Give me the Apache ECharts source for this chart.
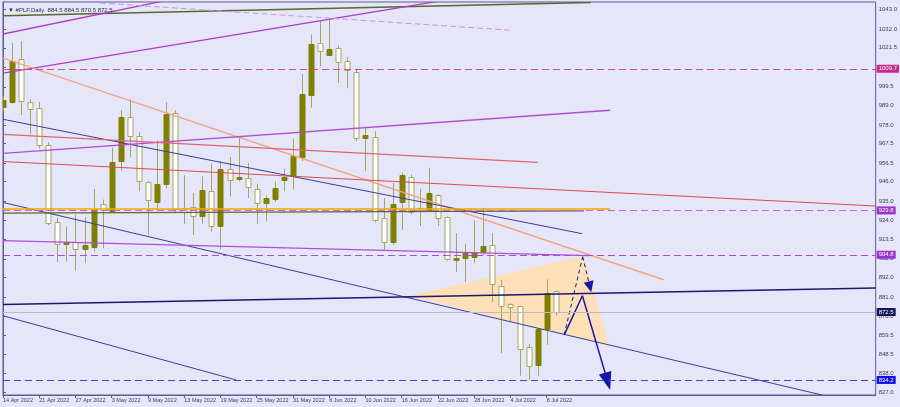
<!DOCTYPE html>
<html>
<head>
<meta charset="utf-8">
<script src="https://cdn.jsdelivr.net/npm/echarts@6/dist/echarts.min.js"></script>
<style>
html, body { margin: 0; padding: 0; background: #e6e6fa; }
#chart { width: 900px; height: 407px; }
</style>
</head>
<body>
<div id="chart"></div>
<script>
// daily candles, #PLF
const dates = [
  '14 Apr 2022', '18 Apr 2022', '19 Apr 2022', '20 Apr 2022', '21 Apr 2022', '22 Apr 2022',
  '25 Apr 2022', '26 Apr 2022', '27 Apr 2022', '28 Apr 2022', '29 Apr 2022', '2 May 2022',
  '3 May 2022', '4 May 2022', '5 May 2022', '6 May 2022', '9 May 2022', '10 May 2022',
  '11 May 2022', '12 May 2022', '13 May 2022', '16 May 2022', '17 May 2022', '18 May 2022',
  '19 May 2022', '20 May 2022', '23 May 2022', '24 May 2022', '25 May 2022', '26 May 2022',
  '27 May 2022', '30 May 2022', '31 May 2022', '1 Jun 2022', '2 Jun 2022', '3 Jun 2022',
  '6 Jun 2022', '7 Jun 2022', '8 Jun 2022', '9 Jun 2022', '10 Jun 2022', '13 Jun 2022',
  '14 Jun 2022', '15 Jun 2022', '16 Jun 2022', '17 Jun 2022', '20 Jun 2022', '21 Jun 2022',
  '22 Jun 2022', '23 Jun 2022', '24 Jun 2022', '27 Jun 2022', '28 Jun 2022', '29 Jun 2022',
  '30 Jun 2022', '1 Jul 2022', '4 Jul 2022', '5 Jul 2022', '6 Jul 2022', '7 Jul 2022',
  '8 Jul 2022', '11 Jul 2022'
];
const opens = [
  988.5, 991.0, 1015.0, 990.8, 987.4, 966.5, 923.2, 911.1, 912.2, 907.9, 909.4, 933.4,
  929.6, 957.6, 982.7, 971.7, 945.9, 934.9, 944.9, 985.0, 931.2, 931.5, 927.0, 940.6,
  921.3, 952.9, 947.6, 948.2, 942.1, 934.0, 936.3, 946.6, 949.0, 959.8, 994.8, 1024.3,
  1017.7, 1021.3, 1013.9, 1008.0, 970.3, 971.4, 925.5, 911.9, 934.0, 948.7, 931.0, 930.2,
  938.7, 926.0, 902.2, 903.4, 903.4, 906.5, 910.3, 887.1, 877.3, 875.8, 852.7, 842.3,
  862.7, 884.5
];
const closes = [
  992.2, 1014.3, 991.4, 986.9, 966.6, 922.6, 910.7, 912.2, 908.5, 910.3, 930.8, 930.2,
  957.2, 982.5, 972.1, 946.6, 935.5, 944.9, 984.4, 930.8, 929.2, 926.4, 941.5, 921.1,
  953.3, 946.6, 948.7, 943.0, 934.0, 936.8, 942.5, 948.5, 960.4, 995.4, 1023.7, 1019.9,
  1020.9, 1013.4, 1008.6, 970.8, 972.1, 924.5, 912.2, 933.4, 949.5, 929.2, 929.8, 939.7,
  926.0, 902.2, 903.2, 906.0, 906.5, 910.0, 888.2, 875.8, 875.4, 851.8, 841.9, 862.7,
  883.0, 872.5
];
const lows = [
  986.0, 990.0, 983.5, 972.7, 964.8, 921.5, 900.7, 900.9, 895.8, 900.0, 906.5, 908.5,
  929.0, 952.3, 959.8, 940.6, 916.0, 929.8, 942.1, 928.3, 922.3, 916.0, 922.3, 917.9,
  907.9, 937.7, 946.2, 936.8, 922.3, 923.6, 934.6, 940.6, 941.5, 957.6, 987.8, 1011.1,
  1017.3, 1001.6, 998.8, 968.9, 951.9, 923.0, 907.9, 910.3, 918.8, 927.5, 921.0, 928.9,
  921.1, 901.5, 895.2, 889.5, 900.0, 904.7, 878.2, 849.3, 866.9, 836.6, 834.2, 836.6,
  854.0, 870.5
];
const highs = [
  994.0, 1024.3, 1025.3, 992.5, 991.0, 968.3, 925.7, 920.7, 927.4, 926.0, 941.9, 935.9,
  965.2, 986.3, 992.5, 974.0, 946.5, 969.3, 990.7, 986.3, 949.6, 939.7, 949.0, 956.1,
  957.6, 960.0, 970.8, 956.7, 944.9, 938.1, 946.2, 953.3, 970.3, 1006.7, 1029.0, 1036.9,
  1037.9, 1022.8, 1016.2, 1009.0, 976.5, 974.4, 936.8, 945.3, 951.0, 950.0, 942.0, 953.8,
  939.0, 926.5, 917.0, 910.7, 924.1, 931.2, 917.0, 890.5, 877.5, 876.0, 854.6, 863.2,
  890.9, 884.5
];

// axis labels
const xTickIdx = [0, 4, 8, 12, 16, 20, 24, 28, 32, 36, 40, 44, 48, 52, 56, 60];
const yTicks = [1043.0, 1032.0, 1021.5, 1010.5, 999.5, 989.0, 978.0, 967.5, 956.5, 946.0,
  935.0, 924.0, 913.5, 902.5, 892.0, 881.0, 870.0, 859.5, 848.5, 838.0, 827.0];

// drawn objects, [bar index, price]
const greenTop = [[0, 1039.6], [64.9, 1047.1]];
const violetSteep = [[0, 1029.3], [19.5, 1049.8]];
const violetUpper = [[0, 1007.2], [48.2, 1047.9]];
const lilacDashed = [[10.7, 1046.8], [55.9, 1031.5]];
const salmonTrend = [[0, 1015.7], [72.9, 890.7]];
const navyUpper = [[0, 981.2], [63.9, 916.7]];
const navyMiddle = [[0, 934.3], [96.3, 818.6]];
const navyLower = [[0, 870.4], [25.7, 834.2]];
const midnightLevel = [[0, 876.8], [96.3, 886.0]];
const violetMid = [[0, 962.0], [67.0, 986.3]];
const violetLow = [[0, 912.8], [64.7, 904.3]];
const orangeLevel = [[0, 930.9], [67.0, 930.9]];
const oliveLevel = [[0, 928.3], [64.1, 929.6]];
const redUpper = [[0, 972.7], [59.0, 956.9]];
const redLower = [[0, 957.4], [96.3, 932.3]];
const projection = [[44.85, 881.7], [64.13, 904.3], [66.89, 853.4]];
const solidPath = [[61.93, 859.6], [63.94, 881.7], [66.72, 833.4]];
const dashedPath = [[61.93, 859.6], [63.97, 903.7], [64.77, 886.7]];
const levels = [1009.7, 929.8, 904.8, 872.5, 834.2];

const FONT = 'Liberation Sans';
const TXT = '#3a3a5c';

const candleData = dates.map(function (d, i) {
  return [i, opens[i], closes[i], lows[i], highs[i]];
});

function seg(pts, color, width, type, extra) {
  return Object.assign({
    coords: pts,
    lineStyle: { color: color, width: width, type: type || 'solid', opacity: 1 }
  }, extra || {});
}

const lineItems = [
  seg(greenTop, '#556b2f', 1.5),
  seg(violetSteep, '#b03ccc', 1.3),
  seg(violetUpper, '#b03ccc', 1.3),
  seg(lilacDashed, '#c896dc', 1, [6, 3]),
  seg(salmonTrend, '#f5a07c', 1.4),
  seg(navyUpper, '#3c3c98', 1),
  seg(navyMiddle, '#3c3c98', 1),
  seg(navyLower, '#3c3c98', 1),
  seg(midnightLevel, '#191970', 1.5),
  seg(violetMid, '#b04cd4', 1.3),
  seg(violetLow, '#b04cd4', 1.3),
  seg(redUpper, '#e0646e', 1.2),
  seg(redLower, '#d84c4c', 1.2),
  seg(oliveLevel, '#556b2f', 1.3),
  seg(orangeLevel, '#ffa500', 1.6),
  seg(solidPath.slice(0, 2), '#1616a8', 1.5),
  seg(solidPath.slice(1, 3), '#1616a8', 1.5, 'solid', { symbol: ['none', 'triangle'], symbolSize: [1, [13, 18]] }),
  seg(dashedPath.slice(0, 2), '#1616a8', 1, [4, 3]),
  seg(dashedPath.slice(1, 3), '#1616a8', 1, [4, 3], { symbol: ['none', 'triangle'], symbolSize: [1, [10, 11]] })
];

const levelStyles = [
  { line: '#cc4c8c', tag: '#c8288c' },
  { line: '#b070e0', tag: '#9932cc' },
  { line: '#a050d0', tag: '#9932cc' },
  { line: '#b9b9cc', tag: '#14145a', solid: true },
  { line: '#4040d0', tag: '#1010e0' }
];

const markLineData = levels.map(function (v, i) {
  const s = levelStyles[i];
  return {
    yAxis: v,
    lineStyle: { color: s.line, width: 1, opacity: 1, type: s.solid ? 'solid' : [7, 4] },
    label: {
      show: true,
      position: 'end',
      distance: 1,
      formatter: v.toFixed(1),
      backgroundColor: s.tag,
      color: '#ffffff',
      fontFamily: FONT,
      fontSize: 6,
      padding: [1, 2, 1, 2]
    }
  };
});

const chart = echarts.init(document.getElementById('chart'), null, { renderer: 'canvas' });

chart.setOption({
  animation: false,
  backgroundColor: '#e6e6fa',
  title: {
    text: '\u25BC #PLF,Daily  884.5 884.5 870.5 872.5',
    left: 3,
    top: 2,
    textStyle: { fontFamily: FONT, fontSize: 6, fontWeight: 'normal', color: '#303050' }
  },
  grid: {
    left: 3, right: 23, top: 2, bottom: 12,
    show: true, borderColor: '#5c5c94', borderWidth: 1, backgroundColor: '#e6e6fa'
  },
  xAxis: {
    type: 'value',
    min: 0,
    max: 96.3,
    splitLine: { show: false },
    axisLine: { show: true, lineStyle: { color: '#5c5c94' } },
    axisTick: { show: true, customValues: xTickIdx, length: 3, lineStyle: { color: '#5c5c94' } },
    axisLabel: {
      customValues: xTickIdx,
      formatter: function (v) { return dates[Math.round(v)] || ''; },
      align: 'left',
      margin: 2,
      fontFamily: FONT,
      fontSize: 5.5,
      color: TXT
    }
  },
  yAxis: {
    type: 'value',
    position: 'right',
    min: 825.7,
    max: 1047.35,
    scale: true,
    splitLine: { show: false },
    axisLine: { show: true, lineStyle: { color: '#5c5c94' } },
    axisTick: { show: true, customValues: yTicks, length: 3, lineStyle: { color: '#5c5c94' } },
    axisLabel: {
      customValues: yTicks,
      formatter: function (v) { return v.toFixed(1); },
      margin: 3,
      fontFamily: FONT,
      fontSize: 6,
      color: TXT
    }
  },
  series: [
    {
      name: 'projection',
      type: 'custom',
      z: 1,
      silent: true,
      data: [0],
      renderItem: function (params, api) {
        return {
          type: 'polygon',
          shape: { points: projection.map(function (p) { return api.coord(p); }) },
          style: { fill: '#fddfb8' }
        };
      }
    },
    {
      name: 'PLF',
      type: 'custom',
      z: 2,
      clip: true,
      silent: true,
      data: candleData,
      renderItem: function (params, api) {
        const x = api.value(0);
        const o = api.value(1), c = api.value(2), l = api.value(3), h = api.value(4);
        const pO = api.coord([x, o]);
        const pC = api.coord([x, c]);
        const pL = api.coord([x, l]);
        const pH = api.coord([x, h]);
        const cx = Math.round(pO[0]) + 0.5;
        const up = c >= o;
        const top = Math.round(Math.min(pO[1], pC[1])) + 0.5;
        const hgt = Math.max(Math.round(Math.abs(pO[1] - pC[1])), 1);
        return {
          type: 'group',
          children: [
            {
              type: 'line',
              shape: { x1: cx, y1: pH[1], x2: cx, y2: pL[1] },
              style: { stroke: '#a4a462', lineWidth: 1 }
            },
            {
              type: 'rect',
              shape: { x: cx - 2.5, y: top, width: 5, height: hgt },
              style: {
                fill: up ? '#808000' : '#ffffff',
                stroke: up ? '#808000' : '#a6a660',
                lineWidth: 1
              }
            }
          ]
        };
      },
      markLine: {
        silent: true,
        symbol: ['none', 'none'],
        data: markLineData
      }
    },
    {
      name: 'objects',
      type: 'lines',
      coordinateSystem: 'cartesian2d',
      z: 3,
      silent: true,
      clip: true,
      symbol: ['none', 'none'],
      data: lineItems
    }
  ]
});
</script>
</body>
</html>
